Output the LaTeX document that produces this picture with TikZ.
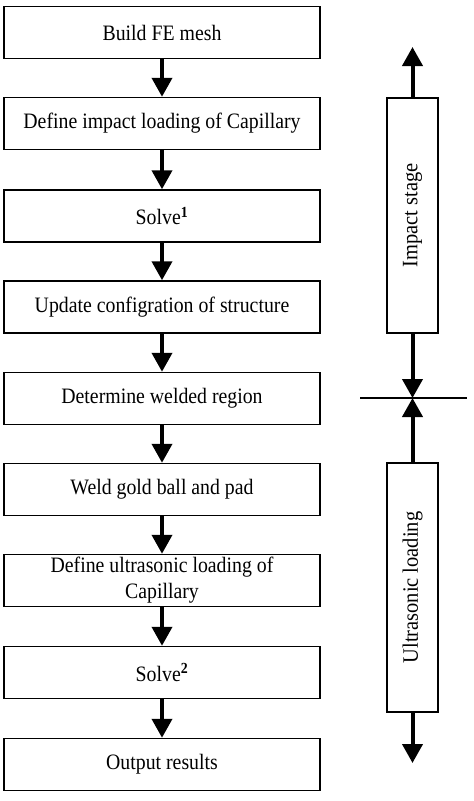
\documentclass[tikz,border=0pt]{standalone}
\usepackage{fontspec}
\setmainfont{Liberation Serif}
\newfontfamily\figfont[FakeStretch=0.9]{Liberation Serif}
\newfontfamily\stagefont[FakeStretch=0.93]{Liberation Serif}
\usetikzlibrary{arrows.meta}
\begin{document}
\begin{tikzpicture}[x=1pt,y=-1pt,
  stepbox/.style={draw=black,line width=1.5pt,minimum width=316pt,minimum height=52pt,
    inner sep=0pt,align=center,font=\figfont\fontsize{22}{26}\selectfont},
  stagebox/.style={draw=black,line width=1.5pt,minimum width=51pt,inner sep=0pt},
  stagetext/.style={rotate=90,font=\stagefont\fontsize{22}{24}\selectfont},
  flow/.style={line width=4pt,-{Triangle[width=20pt,length=19pt]}}]
\useasboundingbox (0,0) rectangle (474,801);
\node[stepbox] (b1) at (162,32.5) {Build FE mesh};
\node[stepbox] (b2) at (162,123.5) {Define impact loading of Capillary};
\node[stepbox] (b3) at (162,216) {Solve\textsuperscript{\textbf{1}}};
\node[stepbox] (b4) at (162,307) {Update configration of structure};
\node[stepbox] (b5) at (162,398.5) {Determine welded region};
\node[stepbox] (b6) at (162,489.5) {Weld gold ball and pad};
\node[stepbox] (b7) at (162,580.5) {Define ultrasonic loading of\\Capillary};
\node[stepbox] (b8) at (162,672.5) {Solve\textsuperscript{\textbf{2}}};
\node[stepbox] (b9) at (162,764.5) {Output results};
\foreach \a/\b in {b1/b2,b2/b3,b3/b4,b4/b5,b5/b6,b6/b7,b7/b8,b8/b9}
  \draw[flow] (\a.south) -- (\b.north);
% right side
\node[stagebox,minimum height=235pt] (imp) at (412.5,215.5) {};
\node[stagetext] (impt) at (imp.center) {Impact stage};
\node[stagebox,minimum height=249pt] (ult) at (412.5,587.5) {};
\node[stagetext] (ultt) at (ult.center) {Ultrasonic loading};
\coordinate (topend) at (412.5,47);
\coordinate (mid) at (412.5,398);
\coordinate (botend) at (412.5,763);
\coordinate (hl) at (360,398);
\coordinate (hr) at (467,398);
\draw[line width=1.3pt] (hl) -- (hr);
\draw[flow] (imp.north) -- (topend);
\draw[flow] (imp.south) -- (mid);
\draw[flow] (ult.north) -- (mid);
\draw[flow] (ult.south) -- (botend);
\end{tikzpicture}
\end{document}
